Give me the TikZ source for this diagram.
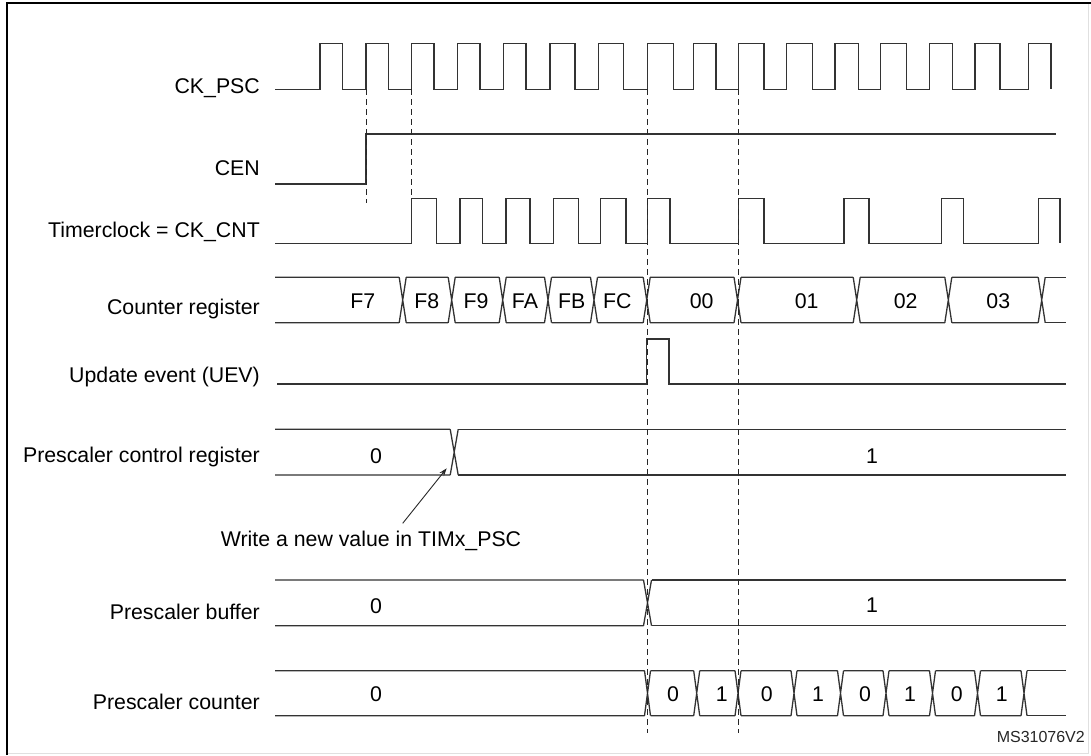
\documentclass[tikz,border=0pt]{standalone}
\usepackage{fontspec}
\setmainfont{Liberation Sans}
\usetikzlibrary{arrows.meta}
\tikzset{
  sig/.style={line width=1.3pt, draw=black!80, line cap=butt, line join=miter},
  guide/.style={line width=1pt, draw=black!85, dash pattern=on 6pt off 4pt},
  lab/.style={font=\fontsize{21.3}{25}\selectfont, inner sep=0pt, text=black},
  small/.style={font=\fontsize{16}{19}\selectfont, inner sep=0pt, text=black!85},
}
% bus row: #1 top y, #2 bottom y, #3 start x, #4 transitions, #5 end x, #6 half width of the crossing
\newcommand\busrow[6]{%
  \def\bh{#6}%
  \gdef\busprev{#3-#6}%
  \foreach \c in {#4}{%
    \draw[sig] (\busprev+\bh,#1) -- (\c-\bh,#1) (\busprev+\bh,#2) -- (\c-\bh,#2)
               (\c-\bh,#1) -- (\c+\bh,#2) (\c-\bh,#2) -- (\c+\bh,#1);
    \xdef\busprev{\c}%
  }%
  \draw[sig] (\busprev+\bh,#1) -- (#5,#1) (\busprev+\bh,#2) -- (#5,#2);
}
\begin{document}
\begin{tikzpicture}[x=1pt,y=-1pt]
\useasboundingbox (0,0) rectangle (1091,755);
% frame
\draw[black!12, line width=1pt] (1088,3.3) -- (1088,753) -- (7,753);
\draw[black, line width=1.8pt] (7,755) -- (7,3.3) -- (1091,3.3);

% signal names
\node[lab, anchor=base east] (nckpsc) at (260,93.3) {CK\_PSC};
\node[lab, anchor=base east] (ncen) at (260,175.7) {CEN};
\node[lab, anchor=base east] (ntclk) at (260,237.3) {Timerclock = CK\_CNT};
\node[lab, anchor=base east] (ncnt) at (260,314) {Counter register};
\node[lab, anchor=base east] (nuev) at (260,382.7) {Update event (UEV)};
\node[lab, anchor=base east] (npcr) at (260,462.7) {Prescaler control register};
\node[lab, anchor=base east] (npbuf) at (260,619.3) {Prescaler buffer};
\node[lab, anchor=base east] (npcnt) at (260,709) {Prescaler counter};

% CK_PSC
\draw[sig] (275,89.3)
  \foreach \r/\f in {320/342.7,366/388.3,411.7/434,457.3/480,503.3/526,550/575,598.3/623.3,
                     647.3/673.3,693.3/716,738.7/764,786.7/812.7,835/858.3,880.7/906.7,
                     929.3/952.3,975/1000,1028.3/1051}
  { -- (\r,89.3) -- (\r,43.3) -- (\f,43.3) -- (\f,89.3) };

% CEN
\draw[sig] (275,184) -- (366,184) -- (366,134) -- (1056,134);

% Timerclock
\draw[sig] (275,243.3)
  \foreach \r/\f in {411.7/436.7,460/482.7,506/530,553.3/578.3,600.7/626,647.3/670,
                     738.7/764,844/869,941.7/963.3,1038.3/1060}
  { -- (\r,243.3) -- (\r,198.3) -- (\f,198.3) -- (\f,243.3) };

% Counter register
\busrow{277.3}{322.7}{275}{402.7,451.7,502.7,548,594,646.7,737.5,856.7,948.3,1041.7}{1066}{3.5}
\foreach \t/\x [count=\i] in {F7/362.7,F8/426.7,F9/476,FA/525,FB/571.7,FC/617.3,00/701.7,01/806.7,02/905.7,03/998.3}
  \node[lab, anchor=base] (cv\i) at (\x,308) {\t};

% UEV
\draw[sig] (277,384) -- (646.7,384) -- (646.7,339) -- (669,339) -- (669,384) -- (1066,384);

% Prescaler control register
\busrow{429.3}{475}{275}{454.2}{1066}{4}
\node[lab, anchor=base] (pcr0) at (376,463) {0};
\node[lab, anchor=base] (pcr1) at (872,463) {1};

% annotation arrow
\node[lab, anchor=base] (note) at (371,546) {Write a new value in TIMx\_PSC};
\coordinate (arrS) at (402.7,523.3);
\coordinate (arrE) at (446.7,468.3);
\draw[line width=0.9pt, black!85, -{Stealth[length=8pt,width=5.5pt]}] (arrS) -- (arrE);

% Prescaler buffer
\busrow{580}{625.7}{275}{647.5}{1066}{4}
\node[lab, anchor=base] (pb0) at (376,613) {0};
\node[lab, anchor=base] (pb1) at (872,612.5) {1};

% Prescaler counter
\busrow{670.7}{715.7}{275}{647.5,696.7,738,794,840.5,886,932.5,977.5,1024}{1066}{3}
\node[lab, anchor=base] (pc0) at (376,701.7) {0};
\foreach \t/\x [count=\i] in {0/673,1/721.7,0/766.7,1/818,0/865,1/910,0/956.7,1/1001.7}
  \node[lab, anchor=base] (pcv\i) at (\x,701.7) {\t};

% dashed guide lines
\draw[guide] (366,89.3) -- (366,203);
\draw[guide] (411.7,89.3) -- (411.7,198.3);
\draw[guide] (647,89.3) -- (647,733);
\draw[guide] (738.7,89.3) -- (738.7,733);

% figure id
\node[small, anchor=base east] (figid) at (1085,742.7) {MS31076V2};
\end{tikzpicture}
\end{document}
